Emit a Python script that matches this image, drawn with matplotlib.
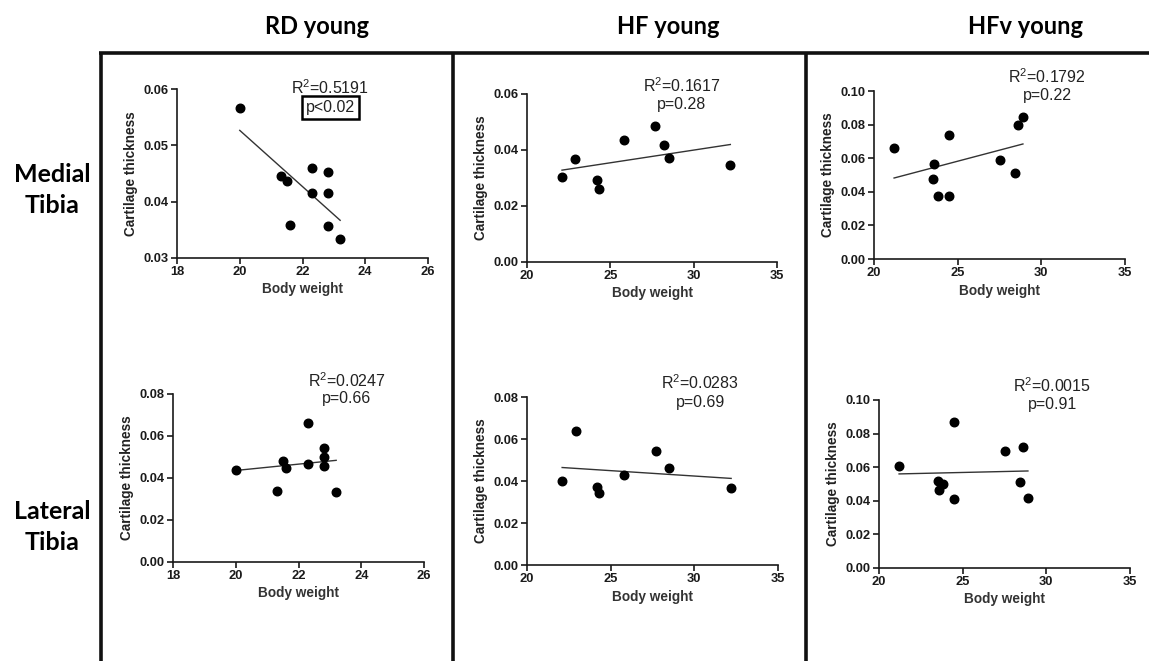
import numpy as np
import matplotlib.pyplot as plt
from matplotlib.lines import Line2D

plt.rcParams['mathtext.fontset'] = 'custom'
plt.rcParams['mathtext.rm'] = 'Liberation Sans'

# body weight per mouse
rd_weight = [20.0, 21.3, 21.5, 21.6, 22.3, 22.3, 22.8, 22.8, 22.8, 23.2]
hf_weight_med = [22.1, 22.9, 24.2, 24.3, 25.8, 27.7, 28.2, 28.5, 32.2]
hf_weight_lat = [22.1, 22.9, 24.2, 24.3, 25.8, 27.7, 28.5, 32.2]
hfv_weight_med = [21.2, 23.6, 23.5, 23.8, 24.5, 24.5, 27.5, 28.4, 28.6, 28.9]
hfv_weight_lat = [21.2, 23.5, 23.8, 23.6, 24.5, 24.5, 27.5, 28.4, 28.6, 28.9]

# cartilage thickness
rd_medial = [0.0566, 0.0446, 0.0437, 0.0358, 0.0459, 0.0415, 0.0453, 0.0415, 0.0356, 0.0333]
rd_lateral = [0.0438, 0.0340, 0.0481, 0.0446, 0.0662, 0.0467, 0.0544, 0.0502, 0.0456, 0.0333]
hf_medial = [0.0304, 0.0369, 0.0293, 0.0261, 0.0437, 0.0484, 0.0419, 0.0373, 0.0348]
hf_lateral = [0.0402, 0.0640, 0.0371, 0.0341, 0.0429, 0.0545, 0.0461, 0.0366]
hfv_medial = [0.0660, 0.0565, 0.0476, 0.0377, 0.0739, 0.0375, 0.0589, 0.0512, 0.0800, 0.0846]
hfv_lateral = [0.0606, 0.0515, 0.0501, 0.0463, 0.0867, 0.0408, 0.0694, 0.0509, 0.0718, 0.0416]

r2_labels = ['0.5191', '0.1617', '0.1792', '0.0247', '0.0283', '0.0015']
p_labels = ['p<0.02', 'p=0.28', 'p=0.22', 'p=0.66', 'p=0.69', 'p=0.91']
col_titles = ['RD young', 'HF young', 'HFv young']
row_titles = ['Medial\nTibia', 'Lateral\nTibia']

W, H = 1149, 661
fig = plt.figure(figsize=(W / 100, H / 100), dpi=100)

def px_axes(l, r, t, b):
    return fig.add_axes([l / W, 1 - b / H, (r - l) / W, (b - t) / H])

panels = [
    (px_axes(177, 428, 89, 258), rd_weight, rd_medial, (18, 26, 2), (0.03, 0.06, 0.01), (0.61, 1.006), (0.61, 0.893)),
    (px_axes(527, 777, 94, 262), hf_weight_med, hf_medial, (20, 35, 5), (0.0, 0.06, 0.02), (0.62, 1.048), (0.62, 0.94)),
    (px_axes(874, 1125, 91, 259), hfv_weight_med, hfv_medial, (20, 35, 5), (0.0, 0.10, 0.02), (0.69, 1.083), (0.69, 0.976)),
    (px_axes(173, 424, 394, 562), rd_weight, rd_lateral, (18, 26, 2), (0.0, 0.08, 0.02), (0.693, 1.077), (0.693, 0.976)),
    (px_axes(527, 778, 397, 565), hf_weight_lat, hf_lateral, (20, 35, 5), (0.0, 0.08, 0.02), (0.69, 1.083), (0.69, 0.97)),
    (px_axes(879, 1130, 400, 568), hfv_weight_lat, hfv_lateral, (20, 35, 5), (0.0, 0.10, 0.02), (0.69, 1.083), (0.69, 0.976)),
]

ink = '#1a1a1a'
for i, (ax, x, y, xr, yr, r2pos, ppos) in enumerate(panels):
    x = np.array(x)
    y = np.array(y)
    ax.scatter(x, y, s=38, color='black', zorder=3, clip_on=False)
    # linear regression line over the data range
    k, c = np.polyfit(x, y, 1)
    xs = np.array([x.min(), x.max()])
    ax.plot(xs, k * xs + c, color='#333333', lw=1.0)
    ax.set_xlim(xr[0], xr[1])
    ax.set_ylim(yr[0], yr[1])
    ax.set_xticks(np.arange(xr[0], xr[1] + 0.1, xr[2]))
    ax.set_yticks(np.arange(yr[0], yr[1] + 0.001, yr[2]))
    ax.yaxis.set_major_formatter(plt.FormatStrFormatter('%.2f'))
    for s in ['top', 'right']:
        ax.spines[s].set_visible(False)
    for s in ['left', 'bottom']:
        ax.spines[s].set_linewidth(1.2)
        ax.spines[s].set_color(ink)
    ax.tick_params(direction='out', length=4, width=1.2, color=ink, labelsize=9.3, labelcolor=ink, pad=2)
    for lab in ax.get_xticklabels() + ax.get_yticklabels():
        lab.set_fontweight('bold')
        lab.set_family('Liberation Sans')
    ax.set_xlabel('Body weight', fontsize=9.8, fontweight='bold', family='Liberation Sans', color='#333333', labelpad=3)
    ax.set_ylabel('Cartilage thickness', fontsize=9.8, fontweight='bold', family='Liberation Sans', color='#222222', labelpad=4)
    ax.text(r2pos[0], r2pos[1], r'R$^2$=' + r2_labels[i], transform=ax.transAxes, ha='center', va='center',
            fontsize=11.5, family='Liberation Sans', color='#222222')
    box = None
    if i == 0:
        box = dict(boxstyle='square,pad=0.25', facecolor='white', edgecolor='black', lw=1.8)
    ax.text(ppos[0], ppos[1], p_labels[i], transform=ax.transAxes, ha='center', va='center',
            fontsize=11.5, family='Liberation Sans', color='#222222', bbox=box)

# column and row headings
for xc, t in zip([317, 668, 1025], col_titles):
    fig.text(xc / W, 1 - 27 / H, t, ha='center', va='center', fontsize=17, fontweight='bold', family='Lato')
for yc, t in zip([190, 527], row_titles):
    fig.text(52 / W, 1 - yc / H, t, ha='center', va='center', fontsize=18, fontweight='bold',
             family='Lato', linespacing=1.45)

# grid frame
frame = dict(color='#111111', lw=2.6, transform=fig.transFigure, solid_capstyle='butt')
fig.add_artist(Line2D([99 / W, 1], [1 - 53 / H, 1 - 53 / H], **frame))
for xv in [101, 453, 806]:
    fig.add_artist(Line2D([xv / W, xv / W], [1 - 52 / H, 0], **frame))

fig.savefig('out.png', dpi=100)
